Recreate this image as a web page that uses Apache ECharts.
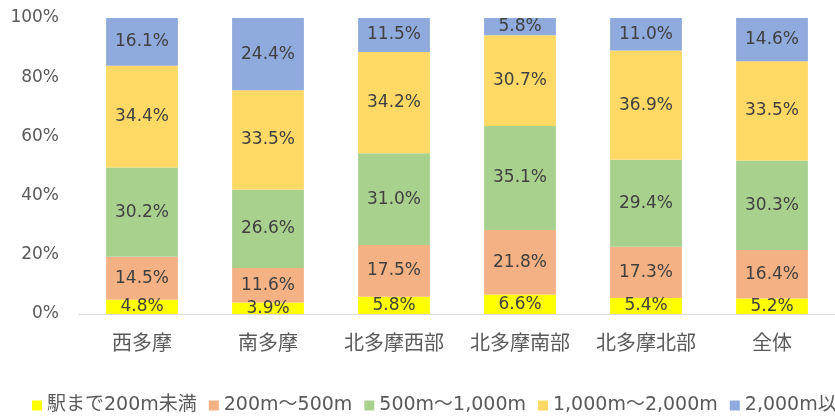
<!DOCTYPE html>
<html><head><meta charset="utf-8">
<script src="https://cdn.jsdelivr.net/npm/echarts@6/dist/echarts.min.js"></script>
<style>html,body{margin:0;padding:0;background:#fff}#c{width:835px;height:416px}</style>
</head><body><div id="c"></div>
<script>
const categories = ['西多摩','南多摩','北多摩西部','北多摩南部','北多摩北部','全体'];
const seriesNames = ['駅まで200m未満','200m～500m','500m～1,000m','1,000m～2,000m','2,000m以上'];
const s200 = [4.8, 3.9, 5.8, 6.6, 5.4, 5.2];
const s500 = [14.5, 11.6, 17.5, 21.8, 17.3, 16.4];
const s1000 = [30.2, 26.6, 31.0, 35.1, 29.4, 30.3];
const s2000 = [34.4, 33.5, 34.2, 30.7, 36.9, 33.5];
const sOver = [16.1, 24.4, 11.5, 5.8, 11.0, 14.6];
const colors = ['#FFFF00','#F4B183','#A9D18E','#FFD966','#8FAADC'];
const yTicks = [0,20,40,60,80,100];

const cjk = '"Noto Sans CJK JP", sans-serif';
const num = '"DejaVu Sans", "Noto Sans CJK JP", sans-serif';
const data = [s200, s500, s1000, s2000, sOver];
const chart = echarts.init(document.getElementById('c'));
chart.setOption({
  animation: false,
  textStyle: {fontFamily: cjk},
  grid: {left: 79, top: 18, width: 762, height: 296, containLabel: false},
  legend: {
    left: 32, top: 396, width: 1400, padding: 0,
    itemWidth: 10, itemHeight: 10, itemGap: 12, icon: 'rect',
    textStyle: {fontSize: 19, color: '#595959', fontFamily: num},
    data: seriesNames
  },
  xAxis: {
    type: 'category', data: categories,
    axisLine: {lineStyle: {color: '#D9D9D9', width: 1}},
    axisTick: {show: false},
    axisLabel: {fontSize: 20, color: '#595959', margin: 18, fontFamily: cjk, interval: 0}
  },
  yAxis: {
    type: 'value', min: 0, max: 100, interval: 20,
    axisLine: {show: false}, axisTick: {show: false},
    splitLine: {show: false},
    axisLabel: {fontSize: 17, color: '#595959', margin: 20, formatter: v => v + '%', fontFamily: num}
  },
  series: seriesNames.map((n, i) => ({
    name: n, type: 'bar', stack: 'a', barWidth: '57%',
    itemStyle: {color: colors[i]},
    label: {show: true, position: 'inside', fontSize: 17, color: '#404040', fontFamily: num,
      formatter: p => p.value.toFixed(1) + '%'},
    data: data[i]
  }))
});
</script></body></html>
